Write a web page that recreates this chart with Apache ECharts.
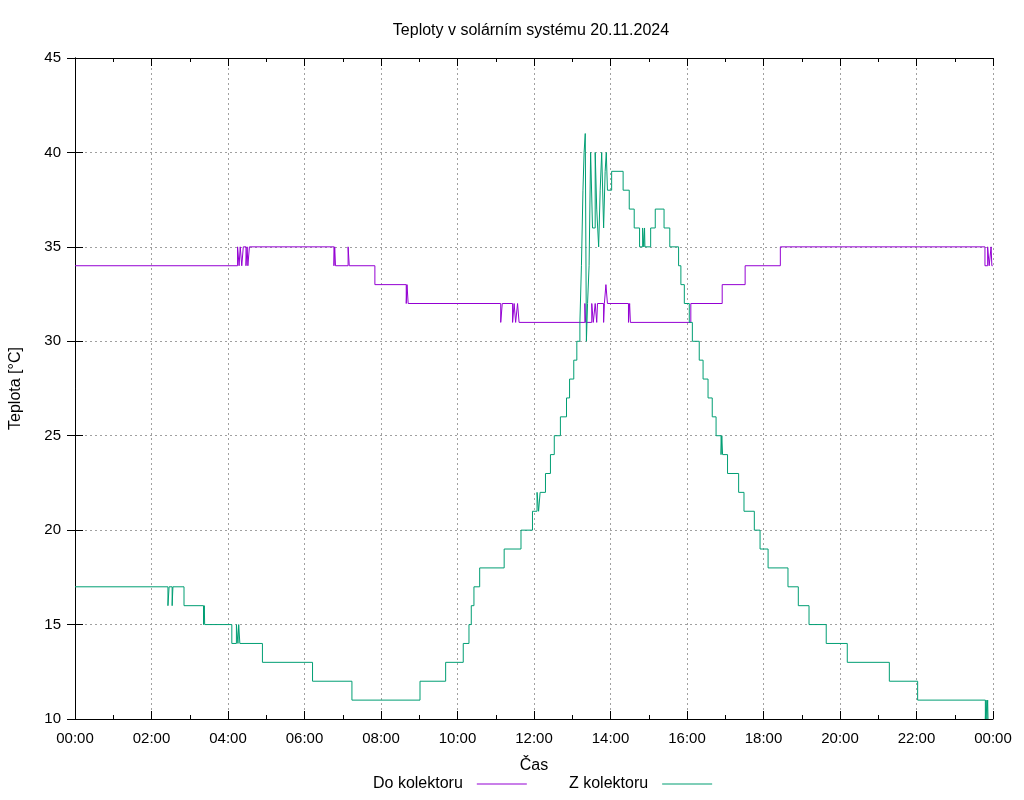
<!DOCTYPE html>
<html>
<head>
<meta charset="utf-8">
<script src="https://cdn.jsdelivr.net/npm/echarts@6/dist/echarts.min.js"></script>
<style>
  html, body { margin: 0; padding: 0; background: #fff; }
  #chart { width: 1024px; height: 800px; }
</style>
</head>
<body>
<div id="chart"></div>
<script>
// cas v hodinach (desetinne), hodnota = teplota po zmene
const doTimes = [0, 4.25, 4.29, 4.32, 4.36, 4.40, 4.47, 4.50, 4.52, 4.56, 4.60,
  6.77, 6.79, 6.81, 7.14, 7.17, 7.84, 8.66, 8.68, 8.71,
  11.13, 11.17, 11.44, 11.48, 11.52, 11.57, 11.61,
  13.33, 13.35, 13.51, 13.55, 13.60, 13.64, 13.66, 13.82, 13.84, 13.88, 13.92,
  14.47, 14.50, 14.52, 16.10, 16.92, 17.52, 18.44,
  23.79, 23.86, 23.90, 23.95, 23.97, 23.99]
const doValues = [34, 35, 34, 35, 34, 35, 34, 35, 34, 35, 35,
  34, 35, 34, 35, 34, 33, 32, 33, 32,
  31, 32, 31, 32, 31, 32, 31,
  32, 31, 32, 31, 32, 31, 32, 31, 32, 33, 32,
  31, 32, 31, 32, 33, 34, 35,
  34, 35, 34, 35, 34, 34]

const zTimes = [0, 2.43, 2.46, 2.54, 2.56, 2.85, 3.36, 3.38, 3.39,
  4.10, 4.22, 4.26, 4.28, 4.31, 4.90, 6.21, 7.24, 9.02, 9.69,
  10.15, 10.30, 10.36, 10.43, 10.58, 11.22, 11.66, 11.96, 12.08, 12.12, 12.16,
  12.30, 12.43, 12.53, 12.69, 12.85, 12.93, 13.04, 13.12, 13.20, 13.24, 13.28,
  13.31, 13.34, 13.37, 13.40, 13.44, 13.48, 13.53, 13.60, 13.64, 13.69, 13.73,
  13.77, 13.82, 13.86, 13.89, 13.92, 14.03, 14.33, 14.49, 14.62, 14.76,
  14.84, 14.87, 14.89, 14.90, 15.05, 15.17, 15.40, 15.55, 15.78, 15.84, 15.93,
  16.06, 16.14, 16.32, 16.42, 16.55, 16.66, 16.76, 16.89, 16.91, 16.93,
  17.06, 17.35, 17.49, 17.76, 17.91, 18.12, 18.64, 18.91, 19.19, 19.64,
  20.19, 21.29, 22.03, 23.80, 23.82, 23.84, 23.86, 23.87]
const zValues = [17, 16, 17, 16, 17, 16, 15, 16, 15,
  14, 15, 14, 15, 14, 13, 12, 11, 12, 13,
  14, 15, 16, 17, 18, 19, 20, 21, 22, 21, 22,
  23, 24, 25, 26, 27, 28, 29, 30, 31, 34, 38,
  40, 41, 30, 32, 34, 40, 36, 40, 37, 35, 38,
  40, 36, 39, 40, 38, 39, 38, 37, 36, 35,
  36, 35, 36, 35, 36, 37, 36, 35, 34, 33, 32,
  31, 30, 29, 28, 27, 26, 25, 24, 25, 24,
  23, 22, 21, 20, 19, 18, 17, 16, 15, 14,
  13, 12, 11, 10, 11, 10, 11, 10]

const seriesNames = ['Do kolektoru', 'Z kolektoru']
const colors = ['#9400d3', '#009e73']

const font = 'Liberation Sans, Arial, sans-serif'
const gridLine = { show: true, lineStyle: { color: '#a0a0a0', type: [2, 3], width: 1 } }

function hhmm(v) {
  const h = Math.round(v) % 24
  return (h < 10 ? '0' : '') + h + ':00'
}

function legendFor(name, left) {
  return {
    left: left,
    top: 771,
    align: 'right',
    data: [{ name: name, icon: 'rect' }],
    itemWidth: 50,
    itemHeight: 1,
    textStyle: { fontSize: 16, color: '#000', fontFamily: font, padding: [0, 9, 0, 0] },
  }
}

const myChart = echarts.init(document.getElementById('chart'))

const option = {
  animation: false,
  backgroundColor: '#fff',
  textStyle: { fontFamily: font },
  title: {
    text: 'Teploty v solárním systému 20.11.2024',
    left: 526,
    top: 18,
    textAlign: 'center',
    textStyle: { fontSize: 16, fontWeight: 'normal', color: '#000', fontFamily: font },
  },
  legend: [legendFor(seriesNames[0], 368), legendFor(seriesNames[1], 564)],
  grid: { left: 75, right: 31, top: 58, bottom: 81 },
  xAxis: [
    {
      type: 'value',
      min: 0,
      max: 24,
      interval: 2,
      name: 'Čas',
      nameLocation: 'middle',
      nameGap: 39,
      nameTextStyle: { fontSize: 16, color: '#000', fontFamily: font },
      axisLine: { lineStyle: { color: '#000', width: 1 } },
      axisTick: { inside: true, length: 8, lineStyle: { color: '#000' } },
      minorTick: { show: true, splitNumber: 2, length: 4, lineStyle: { color: '#000' } },
      axisLabel: { formatter: hhmm, fontSize: 15, color: '#000', margin: 12, fontFamily: font },
      splitLine: gridLine,
    },
    {
      type: 'value',
      position: 'top',
      min: 0,
      max: 24,
      interval: 2,
      axisLine: { lineStyle: { color: '#000', width: 1 } },
      axisTick: { inside: true, length: 8, lineStyle: { color: '#000' } },
      minorTick: { show: true, splitNumber: 2, length: 4, lineStyle: { color: '#000' } },
      axisLabel: { show: false },
      splitLine: { show: false },
    },
  ],
  yAxis: [
    {
      type: 'value',
      min: 10,
      max: 45,
      interval: 5,
      name: 'Teplota [°C]',
      nameLocation: 'middle',
      nameRotate: 90,
      nameGap: 51,
      nameTextStyle: { fontSize: 16, color: '#000', fontFamily: font },
      axisLine: { show: true, lineStyle: { color: '#000', width: 1 } },
      axisTick: { show: true, inside: true, length: 8, lineStyle: { color: '#000' } },
      axisLabel: { fontSize: 15, color: '#000', margin: 14, fontFamily: font },
      splitLine: gridLine,
    },
    {
      type: 'value',
      position: 'right',
      min: 10,
      max: 45,
      interval: 5,
      axisLine: { show: true, lineStyle: { color: '#000', width: 1 } },
      axisTick: { show: true, inside: true, length: 8, lineStyle: { color: '#000' } },
      axisLabel: { show: false },
      splitLine: { show: false },
    },
  ],
  series: [
    {
      name: seriesNames[0],
      type: 'line',
      step: 'end',
      symbol: 'none',
      color: colors[0],
      lineStyle: { width: 1, color: colors[0] },
      data: doTimes.map((t, i) => [t, doValues[i]]),
    },
    {
      name: seriesNames[1],
      type: 'line',
      step: 'end',
      symbol: 'none',
      color: colors[1],
      lineStyle: { width: 1, color: colors[1] },
      data: zTimes.map((t, i) => [t, zValues[i]]),
    },
  ],
}

myChart.setOption(option)
</script>
</body>
</html>
